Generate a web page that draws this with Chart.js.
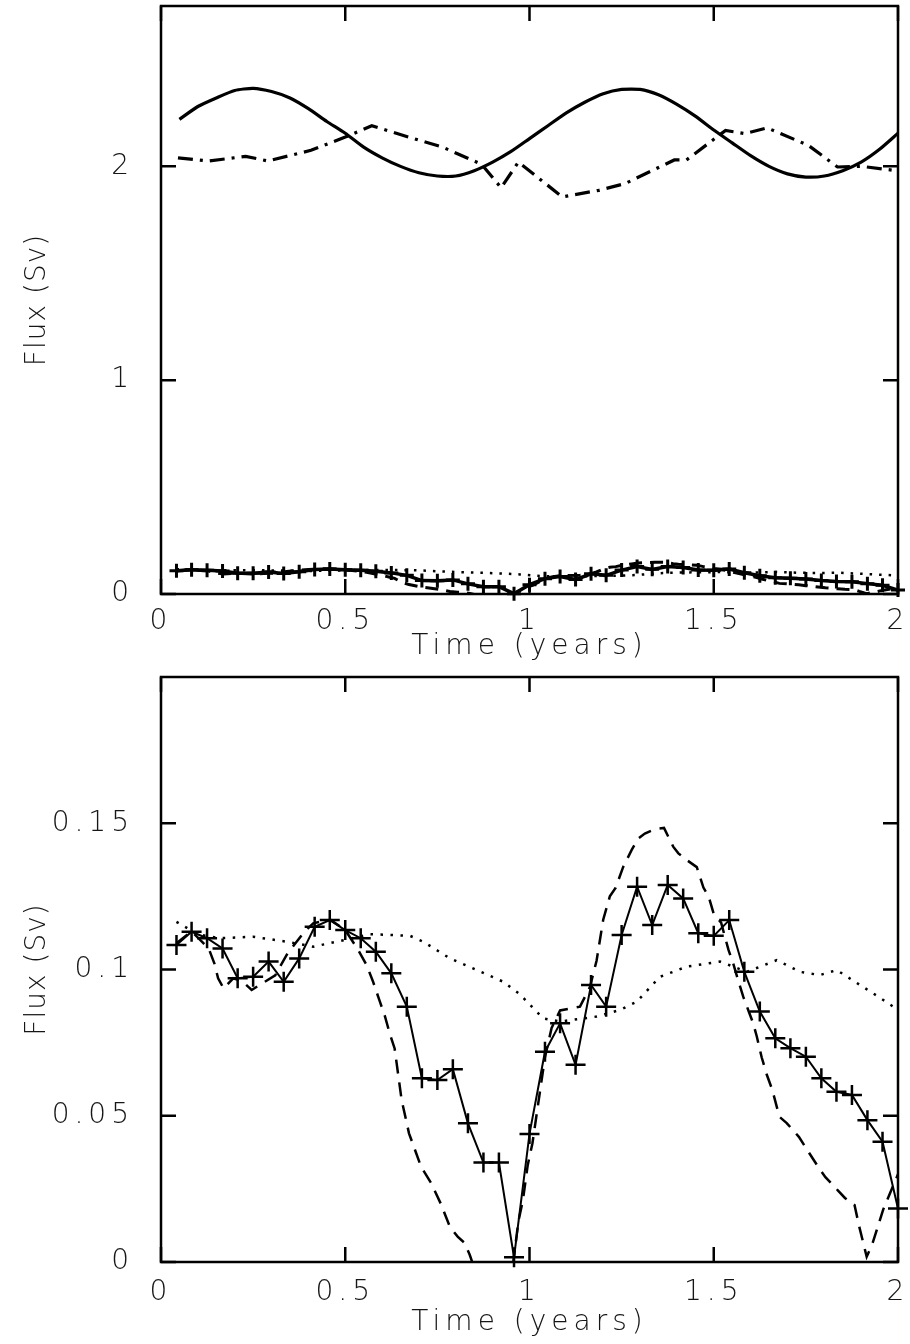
<!DOCTYPE html>
<html>
<head>
<meta charset="utf-8">
<script src="https://cdn.jsdelivr.net/npm/chart.js@4.4.1/dist/chart.umd.min.js"></script>
<style>
  html, body { margin: 0; padding: 0; background: #fff; }
  canvas { display: block; }
</style>
</head>
<body>
<canvas id="upper" width="910" height="672"></canvas>
<canvas id="lower" width="910" height="672"></canvas>
<script>
// time axis (years) and tick values
const xTicks = [0, 0.5, 1, 1.5, 2];
const upperYTicks = [0, 1, 2];
const lowerYTicks = [0, 0.05, 0.1, 0.15];

// large annual-cycle flux (solid) and its companion (dash-dot)
const sinTime = [0.05, 0.1, 0.15, 0.2, 0.25, 0.3, 0.35, 0.4, 0.45, 0.5,
  0.55, 0.6, 0.65, 0.7, 0.75, 0.8, 0.85, 0.9, 0.95, 1.0,
  1.05, 1.1, 1.15, 1.2, 1.25, 1.3, 1.35, 1.4, 1.45, 1.5,
  1.55, 1.6, 1.65, 1.7, 1.75, 1.8, 1.85, 1.9, 1.95, 2.0];
const sinFlux = [2.22, 2.28, 2.32, 2.355, 2.365, 2.35, 2.32, 2.27, 2.21, 2.155,
  2.09, 2.04, 2.0, 1.97, 1.955, 1.955, 1.98, 2.02, 2.07, 2.13,
  2.19, 2.25, 2.3, 2.34, 2.36, 2.36, 2.335, 2.29, 2.235, 2.17,
  2.11, 2.05, 2.0, 1.965, 1.95, 1.955, 1.98, 2.02, 2.08, 2.155];

const dashDotTime = [0.046, 0.129, 0.23, 0.29, 0.407, 0.5, 0.572, 0.672, 0.764, 0.87,
  0.923, 0.97, 1.089, 1.188, 1.26, 1.393, 1.426, 1.532, 1.585, 1.645,
  1.757, 1.836, 1.902, 1.995];
const dashDotFlux = [2.04, 2.025, 2.047, 2.025, 2.075, 2.137, 2.19, 2.137, 2.09, 2.01,
  1.9, 2.02, 1.857, 1.888, 1.92, 2.03, 2.03, 2.168, 2.153, 2.18,
  2.098, 1.997, 2.0, 1.98];

// small fluxes: solid with crosses, dashed, dotted
const crossTime = [0.042, 0.083, 0.125, 0.167, 0.208, 0.25, 0.292, 0.333, 0.375, 0.417,
  0.458, 0.5, 0.542, 0.583, 0.625, 0.667, 0.708, 0.75, 0.792, 0.833,
  0.875, 0.917, 0.958, 1.0, 1.042, 1.083, 1.125, 1.167, 1.208, 1.25,
  1.292, 1.333, 1.375, 1.417, 1.458, 1.5, 1.542, 1.583, 1.625, 1.667,
  1.708, 1.75, 1.792, 1.833, 1.875, 1.917, 1.958, 2.0];
const crossFlux = [0.1084, 0.1129, 0.1107, 0.1072, 0.097, 0.0975, 0.1027, 0.0958, 0.1038, 0.1146,
  0.1169, 0.1135, 0.1107, 0.1061, 0.0987, 0.0873, 0.0628, 0.0622, 0.0659, 0.0474,
  0.034, 0.034, 0.0016, 0.0438, 0.0719, 0.0816, 0.0674, 0.0947, 0.0873, 0.1118,
  0.1283, 0.1152, 0.1289, 0.1243, 0.1124, 0.1115, 0.1169, 0.0992, 0.0856, 0.0765,
  0.0731, 0.0702, 0.0628, 0.0582, 0.0571, 0.0485, 0.0411, 0.0183];

const dashTime = [0.042, 0.083, 0.115, 0.13, 0.145, 0.155, 0.17, 0.196, 0.22, 0.246,
  0.278, 0.31, 0.341, 0.368, 0.39, 0.413, 0.46, 0.5, 0.535, 0.558,
  0.575, 0.594, 0.608, 0.621, 0.634, 0.653, 0.673, 0.706, 0.733, 0.759,
  0.784, 0.805, 0.824, 0.838, 0.85, 0.9, 0.955, 0.97, 0.982, 0.995,
  1.008, 1.029, 1.042, 1.06, 1.083, 1.137, 1.164, 1.182, 1.2, 1.218,
  1.234, 1.254, 1.277, 1.295, 1.313, 1.34, 1.365, 1.39, 1.404, 1.427,
  1.454, 1.472, 1.486, 1.5, 1.52, 1.54, 1.553, 1.566, 1.58, 1.594,
  1.607, 1.617, 1.63, 1.644, 1.659, 1.678, 1.698, 1.731, 1.75, 1.783,
  1.803, 1.836, 1.856, 1.882, 1.895, 1.915, 1.93, 1.96, 1.98, 2.0];
const dashFlux = [0.109, 0.113, 0.109, 0.107, 0.102, 0.097, 0.0935, 0.097, 0.096, 0.093,
  0.0955, 0.098, 0.105, 0.1095, 0.113, 0.1158, 0.117, 0.1135, 0.1067, 0.1015,
  0.096, 0.089, 0.0839, 0.078, 0.073, 0.0554, 0.044, 0.0325, 0.027, 0.02,
  0.012, 0.0087, 0.0065, 0.0024, -0.002, -0.012, -0.001, 0.014, 0.021, 0.033,
  0.0406, 0.0588, 0.07, 0.08, 0.086, 0.0873, 0.094, 0.103, 0.117, 0.125,
  0.128, 0.135, 0.1408, 0.1448, 0.1465, 0.148, 0.1484, 0.142, 0.1397, 0.1374,
  0.135, 0.128, 0.125, 0.119, 0.116, 0.1067, 0.102, 0.0964, 0.0907, 0.086,
  0.0816, 0.077, 0.07, 0.064, 0.0588, 0.0497, 0.0475, 0.0428, 0.039, 0.0326,
  0.029, 0.0246, 0.0219, 0.0195, 0.012, 0.0018, 0.006, 0.018, 0.024, 0.03];

const dotTime = [0.042, 0.1, 0.16, 0.25, 0.341, 0.413, 0.495, 0.567, 0.676, 0.712,
  0.784, 0.857, 0.929, 0.974, 1.037, 1.083, 1.182, 1.246, 1.291, 1.354,
  1.427, 1.517, 1.59, 1.671, 1.734, 1.788, 1.834, 1.897, 1.96, 2.0];
const dotFlux = [0.1163, 0.112, 0.1107, 0.1112, 0.1095, 0.1078, 0.11, 0.1121, 0.1115, 0.1095,
  0.1038, 0.0998, 0.0958, 0.0915, 0.0833, 0.0822, 0.0839, 0.0862, 0.089, 0.0975,
  0.101, 0.1027, 0.0992, 0.1032, 0.0992, 0.0981, 0.0998, 0.0947, 0.0896, 0.0862];

const INK = '#000';
const TEXT = '#161616';
const LETTER_GAP = '5px';
const font = { family: "'DejaVu Sans', sans-serif", size: 28, weight: '200' };

const pts = (t, f) => t.map((x, i) => ({ x: x, y: f[i] }));

// box with inward ticks on all four sides
const framePlugin = {
    id: 'frame',
    beforeLayout(chart) { chart.ctx.letterSpacing = LETTER_GAP; },
    beforeDraw(chart) { chart.ctx.letterSpacing = LETTER_GAP; },
    afterDraw(chart, args, opts) {
        const { ctx, chartArea: a } = chart;
        const x = chart.scales.x, y = chart.scales.y;
        const len = 15;
        ctx.save();
        ctx.strokeStyle = INK;
        ctx.lineWidth = 2.5;
        ctx.strokeRect(a.left, a.top, a.right - a.left, a.bottom - a.top);
        ctx.beginPath();
        xTicks.forEach(v => {
            const px = x.getPixelForValue(v);
            ctx.moveTo(px, a.bottom); ctx.lineTo(px, a.bottom - len);
            ctx.moveTo(px, a.top); ctx.lineTo(px, a.top + len);
        });
        opts.yTicks.forEach(v => {
            const py = y.getPixelForValue(v);
            ctx.moveTo(a.left, py); ctx.lineTo(a.left + len, py);
            ctx.moveTo(a.right, py); ctx.lineTo(a.right - len, py);
        });
        ctx.stroke();
        ctx.restore();
    }
};

// the vertical axis title is set with a smaller letter gap
function tightTitle(s) {
    if (s.tightTitle) return;
    const drawTitle = s.drawTitle;
    s.drawTitle = function () {
        const gap = this.ctx.letterSpacing;
        this.ctx.letterSpacing = '1px';
        drawTitle.call(this);
        this.ctx.letterSpacing = gap;
    };
    s.tightTitle = true;
}

function makeScales(yMax, yTicks, xScaleHeight, tickPad, titlePad) {
    return {
        x: {
            type: 'linear', min: 0, max: 2,
            afterBuildTicks: s => { s.ticks = xTicks.map(v => ({ value: v })); },
            afterFit: s => { s.height = xScaleHeight; s.paddingLeft = 0; s.paddingRight = 0; },
            grid: { display: false, drawTicks: false },
            border: { display: false },
            ticks: { font: font, color: TEXT, padding: tickPad, autoSkip: false, maxRotation: 0,
                callback: v => String(v) },
            title: { display: true, text: 'Time (years)', font: font, color: TEXT,
                padding: { top: 0, bottom: titlePad } }
        },
        y: {
            type: 'linear', min: 0, max: yMax,
            afterBuildTicks: s => { s.ticks = yTicks.map(v => ({ value: v })); },
            afterFit: s => {
                s.width = 161; s.paddingTop = 0; s.paddingBottom = 0;
                tightTitle(s);
            },
            grid: { display: false, drawTicks: false },
            border: { display: false },
            ticks: { font: font, color: TEXT, padding: 27, callback: v => String(v) },
            title: { display: true, text: 'Flux (Sv)', font: font, color: TEXT,
                padding: { top: 21, bottom: 0 } }
        }
    };
}

const common = {
    responsive: false,
    animation: false,
    events: [],
    plugins: { legend: { display: false }, tooltip: { enabled: false } }
};

new Chart(document.getElementById('upper'), {
    type: 'line',
    plugins: [framePlugin],
    data: {
        datasets: [
            { data: pts(dotTime, dotFlux), borderColor: INK, borderWidth: 2.5,
              borderDash: [2.5, 7], pointRadius: 0, tension: 0 },
            { data: pts(dashTime, dashFlux), borderColor: INK, borderWidth: 3,
              borderDash: [13, 8], pointRadius: 0, tension: 0, clip: 1 },
            { data: pts(crossTime, crossFlux), borderColor: INK, borderWidth: 3.5,
              pointStyle: 'cross', pointRadius: 7, pointBorderWidth: 3,
              pointBorderColor: INK, tension: 0, clip: false },
            { data: pts(sinTime, sinFlux), borderColor: INK, borderWidth: 3.2,
              pointRadius: 0, tension: 0.2 },
            { data: pts(dashDotTime, dashDotFlux), borderColor: INK, borderWidth: 3.2,
              borderDash: [15, 7, 3, 7], pointRadius: 0, tension: 0 }
        ]
    },
    options: Object.assign({}, common, {
        layout: { autoPadding: false, padding: { left: 0, right: 12, top: 6, bottom: 0 } },
        scales: makeScales(2.75, upperYTicks, 78, 11, 8),
        plugins: Object.assign({}, common.plugins, { frame: { yTicks: upperYTicks } })
    })
});

new Chart(document.getElementById('lower'), {
    type: 'line',
    plugins: [framePlugin],
    data: {
        datasets: [
            { data: pts(dotTime, dotFlux), borderColor: INK, borderWidth: 2.5,
              borderDash: [2.5, 7.5], pointRadius: 0, tension: 0 },
            { data: pts(dashTime, dashFlux), borderColor: INK, borderWidth: 2.5,
              borderDash: [14, 9], pointRadius: 0, tension: 0, clip: 1 },
            { data: pts(crossTime, crossFlux), borderColor: INK, borderWidth: 2,
              pointStyle: 'cross', pointRadius: 10, pointBorderWidth: 2.5,
              pointBorderColor: INK, tension: 0, clip: false }
        ]
    },
    options: Object.assign({}, common, {
        layout: { autoPadding: false, padding: { left: 0, right: 12, top: 5, bottom: 0 } },
        scales: makeScales(0.2, lowerYTicks, 82, 14, 4),
        plugins: Object.assign({}, common.plugins, { frame: { yTicks: lowerYTicks } })
    })
});
</script>
</body>
</html>
